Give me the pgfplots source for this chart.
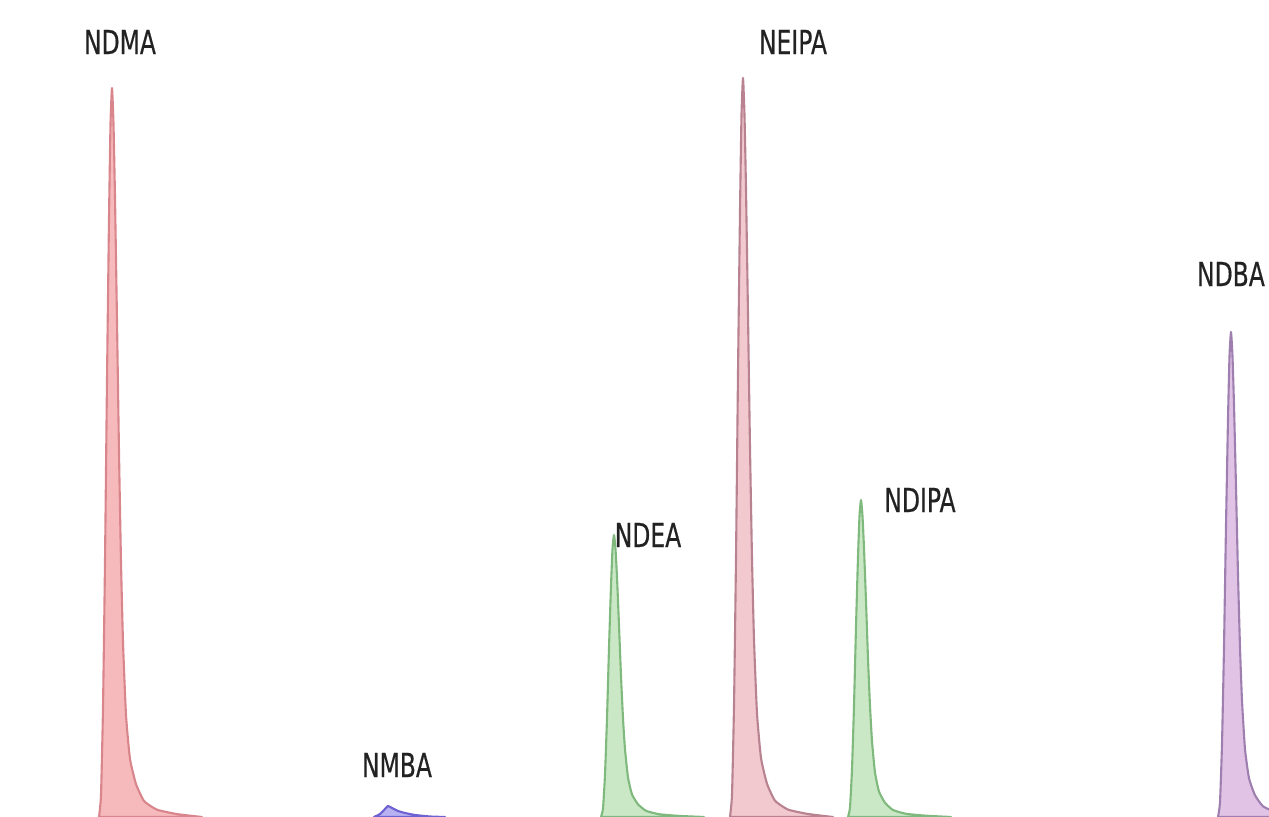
\documentclass[border=0pt]{standalone}
\usepackage{pgfplots}
\pgfplotsset{compat=1.18}
\usepackage{fontspec}
\setmainfont{DejaVu Sans}[FakeStretch=0.71, FakeBold=0.4]
\definecolor{redfill}{HTML}{F6B3B5}
\definecolor{rededge}{HTML}{D9858C}
\definecolor{pinkfill}{HTML}{EFC3CA}
\definecolor{pinkedge}{HTML}{B98290}
\definecolor{greenfill}{HTML}{C4E6C0}
\definecolor{greenedge}{HTML}{7FB97D}
\definecolor{purpfill}{HTML}{DDBDE2}
\definecolor{purpedge}{HTML}{9E7FB0}
\definecolor{bluefill}{HTML}{B9B2F2}
\definecolor{blueedge}{HTML}{6E62D2}
\definecolor{labelgray}{HTML}{222222}
\begin{document}
\begin{tikzpicture}
\begin{axis}[
  width=12.69cm, height=8.17cm, scale only axis,
  xmin=0, xmax=1269, ymin=0, ymax=817,
  hide axis, clip=true,
  every axis plot/.append style={line width=0.6pt, line join=round, smooth, tension=0.3},
]
\path (axis cs:0,0) rectangle (axis cs:1269,817);
% NDMA
\addplot[draw=rededge, fill=redfill, fill opacity=0.9] coordinates {
(99,0)(101,21.9)(103,109)(105,255)(107,437)(109,598)(110.5,693)(112,729)(113.5,693)(115,620)(117,496)(119,365)(121,255)(123,175)(126,102)(130,58)(136,33)(144,16)(157,7.3)(177,2.9)(202,0)} \closedcycle;
% NMBA
\addplot[draw=blueedge, fill=bluefill] coordinates {
(374,0)(380,3)(385,8)(388,11)(392,9)(398,6)(405,4)(415,2)(430,0.5)(445,0)} \closedcycle;
% NDEA
\addplot[draw=greenedge, fill=greenfill, fill opacity=0.9] coordinates {
(601,0)(603,8.5)(605,42.3)(607,98.7)(609,169)(611,231)(612.5,268)(614,282)(615.5,268)(617,240)(619,192)(621,141)(623,98.7)(625,67.7)(628,39.5)(632,22.6)(638,12.7)(646,6.2)(659,2.8)(679,1.1)(704,0)} \closedcycle;
% NEIPA
\addplot[draw=pinkedge, fill=pinkfill, fill opacity=0.9] coordinates {
(730,0)(732,22.2)(734,110.9)(736,258.7)(738,443.4)(740,606)(741.5,702)(743,739)(744.5,702)(746,628)(748,502.5)(750,369.5)(752,258.7)(754,177.4)(757,103.5)(761,59.1)(767,33.3)(775,16.3)(788,7.4)(808,3.0)(833,0)} \closedcycle;
% NDIPA
\addplot[draw=greenedge, fill=greenfill, fill opacity=0.9] coordinates {
(848,0)(850,9.5)(852,47.6)(854,111)(856,190)(858,260)(859.5,301)(861,317)(862.5,301)(864,269)(866,216)(868,158.5)(870,111)(872,76)(875,44.4)(879,25.4)(885,14.3)(893,7.0)(906,3.2)(926,1.3)(951,0)} \closedcycle;
% NDBA
\addplot[draw=purpedge, fill=purpfill, fill opacity=0.9] coordinates {
(1218,0)(1220,14.6)(1222,72.8)(1224,169.8)(1226,291)(1228,397.7)(1229.5,460.8)(1231,485)(1232.5,460.8)(1234,412)(1236,330)(1238,242.5)(1240,169.8)(1242,116.4)(1245,67.9)(1249,38.8)(1255,21.8)(1263,10.7)(1276,4.9)(1296,1.9)(1321,0)} \closedcycle;
\begin{scope}[every node/.style={font=\fontsize{9.4}{11}\selectfont, text=labelgray, inner sep=0pt}]
\node at (axis cs:120,775) {NDMA};
\node at (axis cs:397,52) {NMBA};
\node at (axis cs:648,282) {NDEA};
\node at (axis cs:793,775) {NEIPA};
\node at (axis cs:920,317) {NDIPA};
\node at (axis cs:1231,543) {NDBA};
\end{scope}
\end{axis}
\end{tikzpicture}
\end{document}
